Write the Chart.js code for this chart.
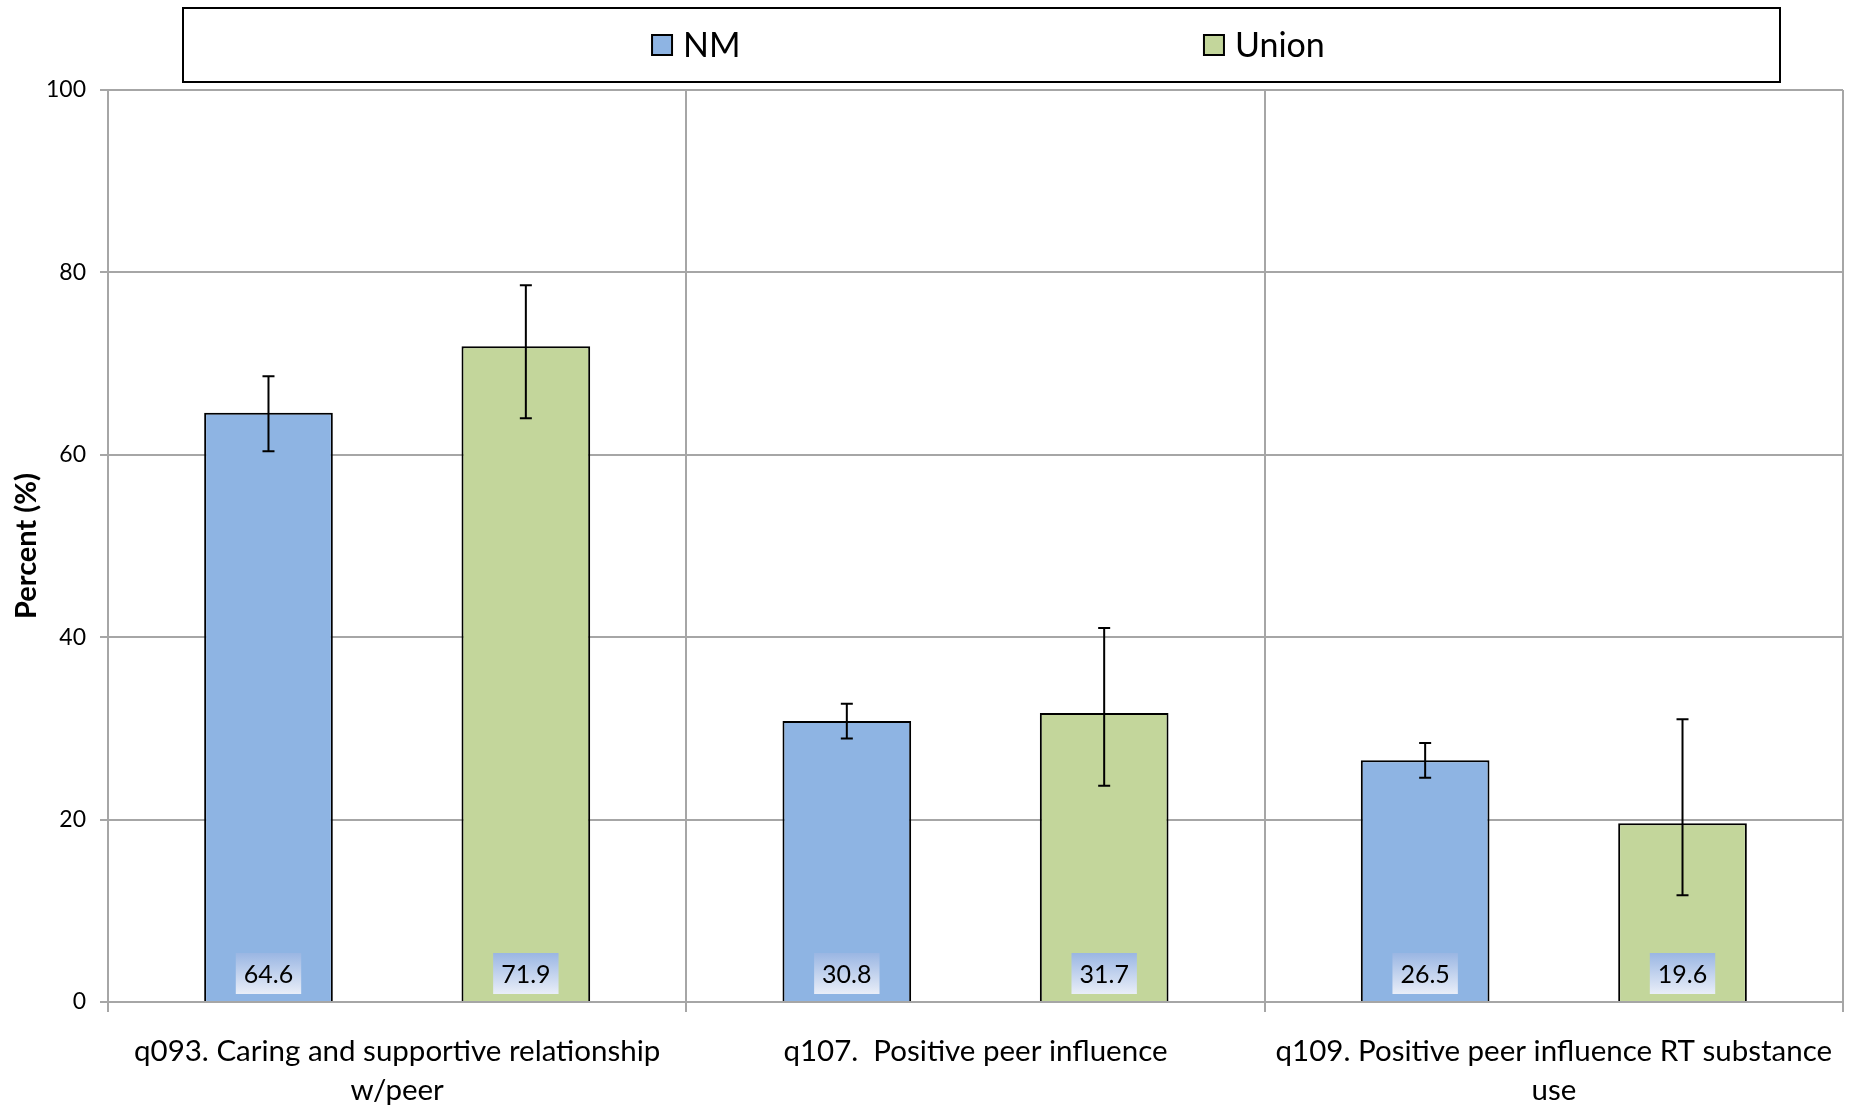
<!DOCTYPE html>
<html>
<head>
<meta charset="utf-8">
<script src="https://cdn.jsdelivr.net/npm/chart.js@4.4.1/dist/chart.umd.min.js"></script>
<style>
html, body { margin: 0; padding: 0; background: #fff; }
#wrap { width: 1855px; height: 1107px; }
</style>
</head>
<body>
<div id="wrap"><canvas id="chart"></canvas></div>
<script>
var categories = [
    ["q093. Caring and supportive relationship", "w/peer"],
    ["q107.  Positive peer influence"],
    ["q109. Positive peer influence RT substance", "use"]
];
var seriesNames = ["NM", "Union"];
var nmValues = [64.6, 30.8, 26.5];
var unionValues = [71.9, 31.7, 19.6];
var nmLow = [60.4, 28.9, 24.6];       // lower end of error bars
var nmHigh = [68.6, 32.7, 28.4];
var unionLow = [64.0, 23.7, 11.7];
var unionHigh = [78.6, 41.0, 31.0];
var yTicks = [0, 20, 40, 60, 80, 100];

var gridGray = '#a6a6a6';
Chart.defaults.font.family = 'Lato';
Chart.defaults.color = '#000';

// error bars drawn on top of the bars
var errorBars = {
    id: 'errorBars',
    afterDatasetsDraw: function (chart) {
        var ctx = chart.ctx;
        var y = chart.scales.y;
        ctx.save();
        ctx.strokeStyle = '#000';
        ctx.lineWidth = 2;
        chart.data.datasets.forEach(function (ds, i) {
            var meta = chart.getDatasetMeta(i);
            meta.data.forEach(function (bar, j) {
                var lo = y.getPixelForValue(ds.errLow[j]);
                var hi = y.getPixelForValue(ds.errHigh[j]);
                ctx.beginPath();
                ctx.moveTo(bar.x, lo); ctx.lineTo(bar.x, hi);
                ctx.moveTo(bar.x - 6, lo); ctx.lineTo(bar.x + 6, lo);
                ctx.moveTo(bar.x - 6, hi); ctx.lineTo(bar.x + 6, hi);
                ctx.stroke();
            });
        });
        ctx.restore();
    }
};

// value boxes sitting at the base of each bar
var valueLabels = {
    id: 'valueLabels',
    afterDatasetsDraw: function (chart) {
        var ctx = chart.ctx;
        var base = chart.scales.y.getPixelForValue(0);
        ctx.save();
        ctx.font = '25px Lato';
        ctx.textAlign = 'center';
        ctx.textBaseline = 'middle';
        chart.data.datasets.forEach(function (ds, i) {
            chart.getDatasetMeta(i).data.forEach(function (bar, j) {
                var txt = ds.data[j].toFixed(1);
                var w = ctx.measureText(txt).width + 16;
                var h = 41;
                var top = base - 8 - h;
                var g = ctx.createLinearGradient(0, top, 0, top + h);
                g.addColorStop(0, '#9ab6e3');
                g.addColorStop(1, '#e9eef8');
                ctx.fillStyle = g;
                ctx.fillRect(bar.x - w / 2, top, w, h);
                ctx.fillStyle = '#000';
                ctx.fillText(txt, bar.x, top + h / 2 + 1);
            });
        });
        ctx.restore();
    }
};

// boxed legend across the top
var boxLegend = {
    id: 'boxLegend',
    afterDraw: function (chart) {
        var ctx = chart.ctx;
        var left = 183, right = 1780, top = 8, bottom = 82;
        ctx.save();
        ctx.strokeStyle = '#000';
        ctx.lineWidth = 2;
        ctx.strokeRect(left, top, right - left, bottom - top);
        ctx.font = '34px Lato';
        ctx.textBaseline = 'middle';
        var starts = [0.2937, 0.6393];
        chart.data.datasets.forEach(function (ds, i) {
            var x = left + (right - left) * starts[i];
            var cy = (top + bottom) / 2;
            ctx.fillStyle = ds.backgroundColor;
            ctx.fillRect(x, cy - 10, 20, 20);
            ctx.strokeRect(x, cy - 10, 20, 20);
            ctx.fillStyle = '#000';
            ctx.fillText(ds.label, x + 31, cy + 1);
        });
        ctx.restore();
    }
};

new Chart(document.getElementById('chart'), {
    type: 'bar',
    data: {
        labels: categories,
        datasets: [{
            label: seriesNames[0],
            data: nmValues,
            errLow: nmLow,
            errHigh: nmHigh,
            backgroundColor: '#8eb4e3',
            borderColor: '#000',
            borderWidth: 2,
            categoryPercentage: 0.89,
            barPercentage: 0.5
        }, {
            label: seriesNames[1],
            data: unionValues,
            errLow: unionLow,
            errHigh: unionHigh,
            backgroundColor: '#c3d69b',
            borderColor: '#000',
            borderWidth: 2,
            categoryPercentage: 0.89,
            barPercentage: 0.5
        }]
    },
    options: {
        responsive: true,
        maintainAspectRatio: false,
        animation: false,
        layout: { padding: { top: 90, right: 12, left: 0, bottom: 0 } },
        plugins: {
            legend: { display: false },
            tooltip: { enabled: false }
        },
        scales: {
            x: {
                grid: { color: gridGray, lineWidth: 2, offset: true, tickLength: 10 },
                border: { color: gridGray, width: 2 },
                ticks: { font: { size: 29.5, lineHeight: 1.32 }, padding: 20, maxRotation: 0, color: '#000' },
                afterFit: function (s) { s.height = 105; }
            },
            y: {
                min: 0,
                max: 100,
                afterBuildTicks: function (s) { s.ticks = yTicks.map(function (v) { return { value: v }; }); },
                grid: { color: gridGray, lineWidth: 2, tickLength: 8 },
                border: { color: gridGray, width: 2 },
                ticks: { font: { size: 23 }, padding: 14, color: '#000' },
                title: { display: true, text: 'Percent (%)', font: { size: 29, weight: 'bold' }, padding: { top: 9, bottom: 0 } },
                afterFit: function (s) { s.width = 108; }
            }
        }
    },
    plugins: [errorBars, valueLabels, boxLegend]
});
</script>
</body>
</html>
